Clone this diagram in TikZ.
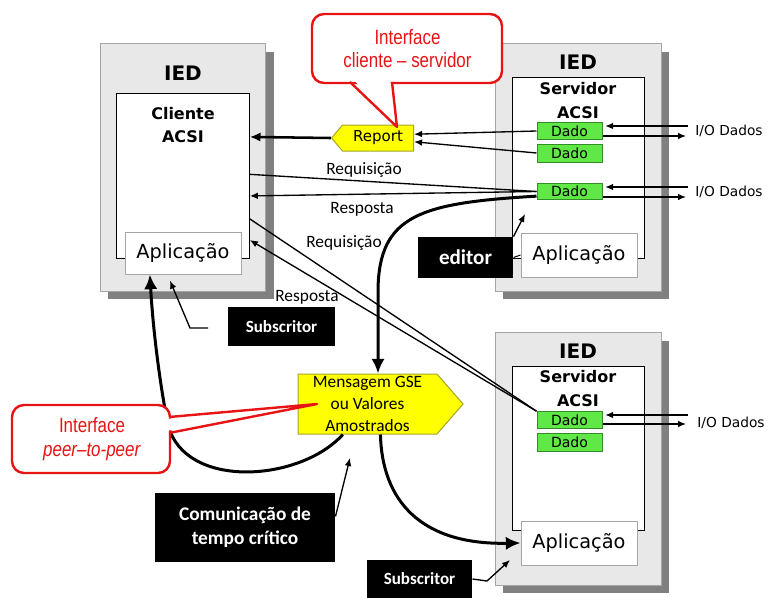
\documentclass[tikz,border=0pt]{standalone}
\usepackage{fontspec}
\setmainfont{DejaVu Sans}
\newfontfamily\calfont{Carlito}
\newfontfamily\narrowfont[FakeStretch=0.82]{Liberation Sans}
\usetikzlibrary{arrows.meta,shapes.symbols}

\definecolor{iedgray}{RGB}{232,232,232}
\definecolor{iedline}{RGB}{165,165,165}
\definecolor{iedshadow}{RGB}{128,128,128}
\definecolor{dadogreen}{RGB}{96,232,70}
\definecolor{dadoline}{RGB}{50,140,40}
\definecolor{msgyellow}{RGB}{255,255,0}
\definecolor{msgline}{RGB}{165,165,40}
\definecolor{calloutred}{RGB}{232,20,20}

\tikzset{every picture/.style={line width=0.75pt}}
\tikzset{
  iedtitle/.style={font=\bfseries\fontsize{15}{17}\selectfont},
  acsititle/.style={font=\bfseries\fontsize{12}{17.5}\selectfont, align=center},
  acsibox/.style={draw, fill=white, inner sep=0pt, minimum width=99.5pt},
  aplbox/.style={draw=iedline, fill=white, inner sep=0pt, minimum width=87pt, font=\fontsize{14.5}{16}\selectfont},
  dado/.style={draw=dadoline, fill=dadogreen, inner sep=0pt, minimum width=48.75pt, minimum height=12.5pt, font=\fontsize{10.5}{12}\selectfont},
  iotext/.style={font=\fontsize{10.3}{12}\selectfont},
  msglabel/.style={font=\calfont\fontsize{13}{15}\selectfont},
  blackbox/.style={fill=black, text=white, inner sep=0pt, align=center, font=\calfont\bfseries\fontsize{12.8}{15}\selectfont},
  yellowsig/.style={signal, draw=msgline, fill=msgyellow, inner sep=1pt},
  callout/.style={draw=calloutred, line width=1.8pt, fill=white, rounded corners=9pt, inner sep=0pt},
  redtext/.style={text=calloutred, align=center, font=\narrowfont\fontsize{15.5}{17.5}\selectfont},
  sigarrow/.style={line width=1pt, -{Latex[length=6pt,width=5pt]}},
  fastarrow/.style={line width=2.25pt, -{Latex[length=11pt,width=10pt]}},
}

\begin{document}
\begin{tikzpicture}[x=0.75pt,y=0.75pt,yscale=-1,xscale=1]
\useasboundingbox (0,0) rectangle (768,597);

%Shape: IED cliente
\fill[iedshadow] (108,52) rectangle (274,299);
\draw[draw=iedline, fill=iedgray] (100,43) rectangle (265,291);
\node[acsibox, minimum height=123.75pt] (cli) at (183,175.5) {};
\node[aplbox, minimum height=31.5pt] (apl1) at (183,253) {Aplicação};
% Text Node
\node[iedtitle] (ied1) at (183,73) {IED};
\node[acsititle] (acsi1) at (183,125) {Cliente\\ACSI};

%Shape: IED servidor (top)
\fill[iedshadow] (503,52) rectangle (669,299);
\draw[draw=iedline, fill=iedgray] (495,43) rectangle (661,291);
\node[acsibox, minimum height=135.75pt] (srv1) at (578.5,167.5) {};
\node[aplbox, minimum height=33pt] (apl2) at (579,255) {Aplicação};
\node[iedtitle] (ied2) at (578,62) {IED};
\node[acsititle] (acsi2) at (578,100.5) {Servidor\\ACSI};
\node[dado] (d1) at (569.5,131) {Dado};
\node[dado, minimum height=13.5pt] (d2) at (569.5,153) {Dado};
\node[dado] (d3) at (569.5,191.5) {Dado};

%Shape: IED servidor (bottom)
\fill[iedshadow] (503,341) rectangle (669,593);
\draw[draw=iedline, fill=iedgray] (495,332) rectangle (661,585);
\node[acsibox, minimum height=123pt] (srv2) at (578.5,448) {};
\node[aplbox, minimum height=33pt] (apl3) at (579,543) {Aplicação};
\node[iedtitle] (ied3) at (578,351) {IED};
\node[acsititle] (acsi3) at (578,388.5) {Servidor\\ACSI};
\node[dado] (b1) at (569.5,420) {Dado};
\node[dado, minimum height=13.5pt] (b2) at (569.5,442) {Dado};

%I/O Dados
\node[iotext] (io1) at (729,131) {I/O Dados};
\node[iotext] (io2) at (729,192) {I/O Dados};
\node[iotext] (io3) at (731,423) {I/O Dados};
\coordinate (io1a) at (688,126);
\coordinate (io1b) at (686,136);
\coordinate (io2a) at (688,187);
\coordinate (io2b) at (686,197);
\coordinate (io3a) at (688,415);
\coordinate (io3b) at (686,424);
\draw[sigarrow, shorten >=2pt] (io1a) -- (d1.east |- io1a);
\draw[sigarrow] (d1.east |- io1b) -- (io1b);
\draw[sigarrow, shorten >=2pt] (io2a) -- (d3.east |- io2a);
\draw[sigarrow] (d3.east |- io2b) -- (io2b);
\draw[sigarrow, shorten >=2pt] (io3a) -- (b1.east |- io3a);
\draw[sigarrow] (b1.east |- io3b) -- (io3b);

%Report
\node[yellowsig, signal to=west, signal pointer angle=100, minimum width=61.5pt, minimum height=19.5pt, font=\fontsize{11.3}{12}\selectfont] (rep) at (378,138) {Report};
\draw[line width=1.9pt, -{Latex[length=8pt,width=7pt]}] (rep.west) -- (cli.30);
\draw[sigarrow] (d1.west) -- (rep.6);
\draw[sigarrow] (d2.west) -- (rep.-6);

%Requisicao / Resposta
\draw[line width=1pt] (cli.1) -- (d3.west);
\draw[sigarrow] (d3.west) -- (cli.-17);
\draw[line width=1pt] (cli.-33) -- (b1.north west);
\draw[sigarrow] (b1.north west) -- (cli.-44);
\node[msglabel] (lreq1) at (364,170) {Requisição};
\node[msglabel] (lresp1) at (362,209) {Resposta};
\node[msglabel] (lreq2) at (344,243) {Requisição};
\node[msglabel] (lresp2) at (307,297) {Resposta};

%Mensagem GSE
\node[yellowsig, signal to=east, signal pointer angle=98, minimum width=123.75pt, minimum height=45pt, align=center, font=\calfont\fontsize{13}{16.5}\selectfont] (gse) at (367.5,404) {Mensagem GSE\\ou Valores\\Amostrados};

%Curve Lines
\draw[fastarrow] (d3.-172) .. controls (420,203) and (379,215) .. (378,290) -- (gse.71);
\draw[fastarrow] (gse.-129) .. controls (300,482) and (185,490) .. (168,425) .. controls (160,385) and (153,330) .. (apl1.213);
\draw[fastarrow] (gse.-67) .. controls (382,500) and (420,545) .. (apl3.west);

%editor
\node[blackbox, minimum width=71.25pt, minimum height=30.75pt, font=\calfont\bfseries\fontsize{15.8}{18}\selectfont] (edt) at (465.5,257.5) {editor};
\draw (edt.east) -- (apl2.west);
\coordinate (edttip) at (525,214);
\draw[sigarrow] (edt.north east) -- (edttip);

%Subscritor
\node[blackbox, minimum width=80.25pt, minimum height=29.25pt] (sub1) at (281.5,326.5) {Subscritor};
\coordinate (sub1end) at (208,328);
\draw[sigarrow, shorten >=5pt] (sub1end) -- (190,328) -- (apl1.234);
\node[blackbox, minimum width=78.75pt, minimum height=28.5pt] (sub2) at (419.5,579) {Subscritor};
\coordinate (sub2tip) at (510,560);
\draw[sigarrow] (sub2.east) -- (487,581) -- (sub2tip);

%Comunicacao de tempo critico
\node[blackbox, minimum width=135pt, minimum height=51.75pt, font=\calfont\bfseries\fontsize{14.5}{18}\selectfont] (comm) at (245,527.5) {Comunicação de\\tempo crítico};
\coordinate (commtip) at (350,458);
\draw[sigarrow] (comm.7) -- (commtip);

%Callout cliente - servidor
\node[callout, minimum width=142.5pt, minimum height=51.75pt] (csif) at (407,48.5) {};
\fill[white] (352,78) -- (397,127) -- (390,78) -- cycle;
\draw[calloutred, line width=1.8pt, line join=round] (350,82) -- (397,127) -- (392,82);
\node[redtext] (csiftxt) at (407.5,48.5) {Interface\\cliente – servidor};

%Callout peer-to-peer
\node[callout, minimum width=118.5pt, minimum height=51pt] (ppif) at (91,439) {};
\fill[white] (166,419) -- (317,404) -- (166,431) -- cycle;
\draw[calloutred, line width=1.8pt, line join=round] (169,417) -- (317,404) -- (169,433);
\node[redtext] (ppiftxt) at (92,439) {Interface\\\textit{peer–to-peer}};

\end{tikzpicture}
\end{document}
